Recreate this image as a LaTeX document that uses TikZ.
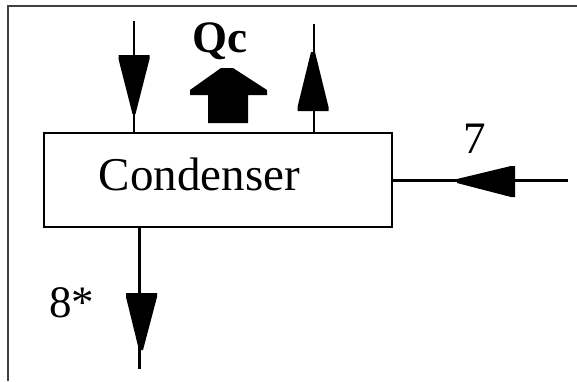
\documentclass[tikz,border=0pt]{standalone}
\usepackage{fontspec}
\setmainfont{Liberation Serif}
\begin{document}
\begin{tikzpicture}[x=1pt,y=-1pt,
  line/.style={line width=2.4pt},
  head/.style={fill=black},
  lbl/.style={inner sep=0pt,font=\fontsize{45}{50}\selectfont},
  boxstyle/.style={draw,line width=2.6pt,minimum width=348pt,minimum height=94pt,inner sep=0pt}]
\useasboundingbox (0,0) rectangle (577,381);
\fill[white] (0,0) rectangle (577,381);
% frame
\draw[line width=1.5pt,black!75] (8,381) -- (8,6) -- (577,6);
% condenser box
\node[boxstyle] (box) at (218,180) {};
\node[anchor=base,inner sep=0pt,font=\fontsize{47}{50}\selectfont] (condtxt) at (199.5,190) {Condenser};
% stream coordinates
\coordinate (s1) at (134,21);
\coordinate (s2) at (314,24);
\coordinate (s7) at (568,180.5);
\coordinate (s8) at (139.5,369);
% connectors
\draw[line] (s1) -- (s1 |- box.north);
\draw[line] (s2) -- (s2 |- box.north);
\draw[line] (s7) -- (s7 -| box.east);
\draw[line] (s8) -- (s8 |- box.south);
% arrowheads
\fill[head] (118.5,55) -- (149.5,55) -- (149.5,59) -- (135.5,114) -- (132.5,114) -- (118.5,59) -- cycle;
\fill[head] (297.5,111) -- (328.5,111) -- (328.5,107) -- (315,52) -- (311,52) -- (297.5,107) -- cycle;
\fill[head] (515,166) -- (515,197) -- (511,197) -- (457,183) -- (457,179) -- (511,166) -- cycle;
\fill[head] (126,293) -- (157,293) -- (157,297) -- (143,350) -- (139,350) -- (126,297) -- cycle;
% heat arrow Qc
\fill[head] (208,123) -- (208,95) -- (190,95) -- (190,90) -- (221,68) -- (233,68) -- (267,90) -- (267,95) -- (248,95) -- (248,123) -- cycle;
% labels
\node[lbl,font=\fontsize{45}{50}\selectfont\bfseries,anchor=base west] (qc) at (192,52) {Qc};
\node[lbl,anchor=base] (l7) at (475,153) {7};
\node[lbl,anchor=base west] (l8) at (49,317) {8*};
\end{tikzpicture}
\end{document}
